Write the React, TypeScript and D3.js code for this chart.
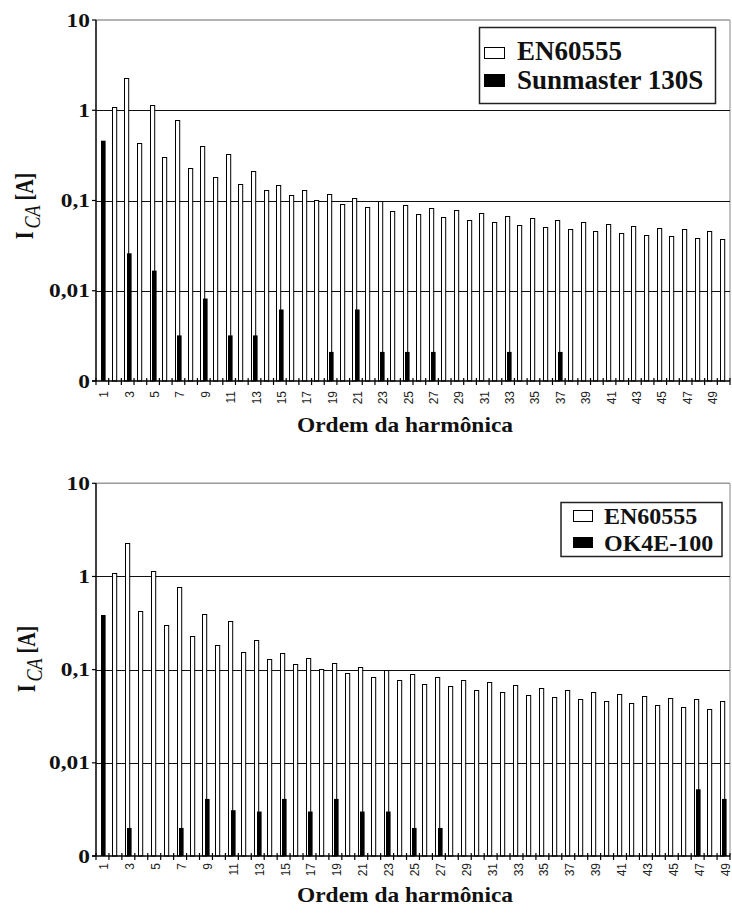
import React from 'react';
import * as d3 from 'd3';

// ---- data ----
const harmonicsTop = [1, 2, 3, 4, 5, 6, 7, 8, 9, 10, 11, 12, 13, 14, 15, 16, 17, 18, 19, 20, 21, 22, 23, 24, 25, 26, 27, 28, 29, 30, 31, 32, 33, 34, 35, 36, 37, 38, 39, 40, 41, 42, 43, 44, 45, 46, 47, 48, 49, 50];
const harmonicsBottom = [1, 2, 3, 4, 5, 6, 7, 8, 9, 10, 11, 12, 13, 14, 15, 16, 17, 18, 19, 20, 21, 22, 23, 24, 25, 26, 27, 28, 29, 30, 31, 32, 33, 34, 35, 36, 37, 38, 39, 40, 41, 42, 43, 44, 45, 46, 47, 48, 49];

// EN60555 limits (A), harmonic 1..50 (0 = no bar)
const en60555Top = [0, 1.08, 2.3, 0.43, 1.14, 0.3, 0.77, 0.23, 0.4, 0.184, 0.33, 0.153, 0.21, 0.131, 0.15, 0.115, 0.132, 0.102, 0.118, 0.092, 0.107, 0.084, 0.098, 0.077, 0.09, 0.071, 0.083, 0.066, 0.078, 0.061, 0.073, 0.058, 0.068, 0.054, 0.064, 0.051, 0.061, 0.048, 0.058, 0.046, 0.055, 0.044, 0.052, 0.042, 0.05, 0.04, 0.048, 0.038, 0.046, 0.037];
const en60555Bottom = [0, 1.08, 2.3, 0.43, 1.14, 0.3, 0.77, 0.23, 0.4, 0.184, 0.33, 0.153, 0.21, 0.131, 0.15, 0.115, 0.132, 0.102, 0.118, 0.092, 0.107, 0.084, 0.098, 0.077, 0.09, 0.071, 0.083, 0.066, 0.078, 0.061, 0.073, 0.058, 0.068, 0.054, 0.064, 0.051, 0.061, 0.048, 0.058, 0.046, 0.055, 0.044, 0.052, 0.042, 0.05, 0.04, 0.048, 0.038, 0.046];

// Sunmaster 130S, harmonic 1..50
const sunmaster130S = [0.46, 0, 0.026, 0, 0.0167, 0, 0.0032, 0, 0.0082, 0, 0.0032, 0, 0.0032, 0, 0.0062, 0, 0, 0, 0.0021, 0, 0.0062, 0, 0.0021, 0, 0.0021, 0, 0.0021, 0, 0, 0, 0, 0, 0.0021, 0, 0, 0, 0.0021, 0, 0, 0, 0, 0, 0, 0, 0, 0, 0, 0, 0, 0];
// OK4E-100, harmonic 1..49
const ok4e100 = [0.386, 0, 0.002, 0, 0, 0, 0.002, 0, 0.0041, 0, 0.0031, 0, 0.003, 0, 0.0041, 0, 0.003, 0, 0.0041, 0, 0.003, 0, 0.003, 0, 0.002, 0, 0.002, 0, 0, 0, 0, 0, 0, 0, 0, 0, 0, 0, 0, 0, 0, 0, 0, 0, 0, 0, 0.0052, 0, 0.0041];

const yTickValues = [10, 1, 0.1, 0.01, 0.001];
const yTickLabels = ['10', '1', '0,1', '0,01', '0'];
const legendTop = ['EN60555', 'Sunmaster 130S'];
const legendBottom = ['EN60555', 'OK4E-100'];
const xTitle = 'Ordem da harmônica';

const SERIF = '"Liberation Serif", "Times New Roman", Times, "DejaVu Serif", serif';
const SANS = '"Liberation Sans", Arial, sans-serif';

type PanelProps = {
  cats: number[];
  limit: number[];
  device: number[];
  legend: string[];
  yTop: number;
  yBot: number;
  legBox: { x: number; y: number; w: number; h: number; fs: number; sx: number; sw: number; tx: number; rows: number[]; swY: number[]; swH: number[] };
  titleY: number;
  yTitleX: number;
  yTitleY: number;
  labelOff: number;
};

const serifStyle = { fontFamily: SERIF, fontWeight: 'bold' as const };

function Panel(p: PanelProps) {
  const x0 = 96;
  const x1 = 730;
  const x = d3.scaleBand<number>().domain(p.cats).range([x0, x1]).padding(0);
  const y = d3.scaleLog().domain([0.001, 10]).range([p.yBot, p.yTop]);
  const bw = x.bandwidth();
  const cx = (n: number) => (x(n) as number) + bw / 2;

  return (
    <g>
      {/* plot border top / right */}
      <line x1={x0} x2={x1} y1={y(10)} y2={y(10)} stroke="#9a9a9a" strokeWidth={1.5} />
      <line x1={x1} x2={x1} y1={p.yTop} y2={p.yBot} stroke="#9a9a9a" strokeWidth={1.2} />
      {/* gridlines */}
      {[1, 0.1, 0.01].map((v) => (
        <line key={v} x1={x0} x2={x1} y1={Math.round(y(v)) + 0.5} y2={Math.round(y(v)) + 0.5} stroke="#111" strokeWidth={1.2} />
      ))}
      {/* EN60555 bars */}
      {p.cats.map((n, i) =>
        p.limit[i] > 0 ? (
          <rect
            key={'w' + n}
            x={Math.round(cx(n) - 3.5) + 0.5}
            y={Math.round(y(p.limit[i])) + 0.5}
            width={4.2}
            height={p.yBot - Math.round(y(p.limit[i])) - 0.5}
            fill="#fff"
            stroke="#000"
            strokeWidth={1}
          />
        ) : null
      )}
      {/* device bars */}
      {p.cats.map((n, i) =>
        p.device[i] > 0 ? (
          <rect
            key={'b' + n}
            x={Math.round(cx(n) - 1.2)}
            y={y(p.device[i])}
            width={4.6}
            height={p.yBot - y(p.device[i])}
            fill="#000"
          />
        ) : null
      )}
      {/* axes */}
      <line x1={x0} x2={x0} y1={p.yTop} y2={p.yBot} stroke="#000" strokeWidth={1.5} />
      <line x1={x0 - 4} x2={x1} y1={p.yBot} y2={p.yBot} stroke="#000" strokeWidth={1.5} />
      {yTickValues.map((v) => (
        <line key={'yt' + v} x1={x0 - 4} x2={x0} y1={y(v)} y2={y(v)} stroke="#000" strokeWidth={1.2} />
      ))}
      {d3.range(p.cats.length + 1).map((i) => (
        <line key={'xt' + i} x1={x0 + i * bw} x2={x0 + i * bw} y1={p.yBot - 3} y2={p.yBot + 4} stroke="#000" strokeWidth={1.2} />
      ))}
      {/* y tick labels */}
      {yTickValues.map((v, i) => (
        <text
          key={'yl' + v}
          transform={`translate(90, ${y(v) + 6.5}) scale(1.3, 1)`}
          textAnchor="end"
          style={{ ...serifStyle, fontSize: '18px' }}
          fill="#111"
        >
          {yTickLabels[i]}
        </text>
      ))}
      {/* x tick labels */}
      {p.cats
        .filter((n) => n % 2 === 1)
        .map((n) => (
          <text
            key={'xl' + n}
            transform={`translate(${cx(n) + 6}, ${p.yBot + p.labelOff}) rotate(-90)`}
            textAnchor="end"
            style={{ fontFamily: SANS, fontSize: '12px' }}
            fill="#222"
          >
            {n}
          </text>
        ))}
      {/* x title */}
      <text
        x={405}
        y={p.titleY}
        textAnchor="middle"
        style={{ ...serifStyle, fontSize: '21px' }}
        textLength={216}
        lengthAdjust="spacingAndGlyphs"
        fill="#111"
      >
        {xTitle}
      </text>
      {/* y title */}
      <g transform={`translate(${p.yTitleX}, ${p.yTitleY}) scale(1.3, 1) rotate(-90)`}>
        <text textAnchor="middle" style={{ ...serifStyle, fontSize: '20px' }} fill="#111">
          I
          <tspan style={{ fontStyle: 'italic', fontWeight: 'normal', fontSize: '18px' }} dx={3} dy={5}>CA</tspan>
          <tspan dy={-5}> [A]</tspan>
        </text>
      </g>
      {/* legend */}
      <rect x={p.legBox.x} y={p.legBox.y} width={p.legBox.w} height={p.legBox.h} fill="#fff" stroke="#222" strokeWidth={1.5} />
      <rect x={p.legBox.sx + 0.5} y={p.legBox.swY[0] + 0.5} width={p.legBox.sw - 1} height={p.legBox.swH[0]} fill="#fff" stroke="#000" strokeWidth={1} />
      <rect x={p.legBox.sx} y={p.legBox.swY[1]} width={p.legBox.sw} height={p.legBox.swH[1]} fill="#000" />
      {p.legend.map((t, i) => (
        <text key={t} x={p.legBox.tx} y={p.legBox.rows[i]} style={{ ...serifStyle, fontSize: p.legBox.fs + 'px' }} fill="#111">
          {t}
        </text>
      ))}
    </g>
  );
}

export default function App() {
  return (
    <svg width={732} height={916} style={{ position: 'absolute', left: 0, top: 0, background: '#fff' }}>
      <rect x={0} y={0} width={732} height={916} fill="#fff" />
      <Panel
        cats={harmonicsTop}
        limit={en60555Top}
        device={sunmaster130S}
        legend={legendTop}
        yTop={20}
        yBot={381}
        legBox={{ x: 479.5, y: 27.5, w: 236, h: 76, fs: 27, sx: 484, sw: 21, tx: 517, rows: [60, 89], swY: [47, 74], swH: [11, 13] }}
        titleY={432}
        yTitleX={33}
        yTitleY={206}
        labelOff={10}
      />
      <Panel
        cats={harmonicsBottom}
        limit={en60555Bottom}
        device={ok4e100}
        legend={legendBottom}
        yTop={483.3}
        yBot={856}
        legBox={{ x: 561, y: 502.5, w: 161, h: 54, fs: 24, sx: 573, sw: 20, tx: 604, rows: [523.5, 551], swY: [510, 537], swH: [11, 11] }}
        titleY={902}
        yTitleX={35}
        yTitleY={659}
        labelOff={7}
      />
    </svg>
  );
}
